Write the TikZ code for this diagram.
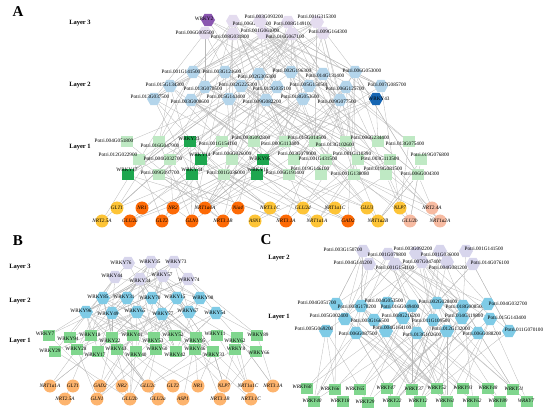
\documentclass[tikz,border=0pt]{standalone}
\usepackage{fontspec}
\setmainfont{Liberation Serif}
\usetikzlibrary{shapes.geometric,backgrounds}

\definecolor{lavA}{HTML}{E4DCEF}
\definecolor{purA}{HTML}{8A56B0}
\definecolor{bluA}{HTML}{B4D5EB}
\definecolor{navA}{HTML}{1666B3}
\definecolor{grnA}{HTML}{BFE9C4}
\definecolor{dgrA}{HTML}{1EA64F}
\definecolor{orgA}{HTML}{FD6A06}
\definecolor{golA}{HTML}{FDC437}
\definecolor{pnkA}{HTML}{F7BBA2}
\definecolor{lavB}{HTML}{D7D5EC}
\definecolor{bluB}{HTML}{7FCBE6}
\definecolor{grnB}{HTML}{80D68E}
\definecolor{orgB}{HTML}{FDB46E}

\tikzset{
  edge/.style={draw=gray!55,line width=0.3pt},
  hexnode/.style={regular polygon,regular polygon sides=6,minimum size=14pt,inner sep=0pt},
  sqnode/.style={rectangle,minimum width=12pt,minimum height=11pt,inner sep=0pt},
  gene/.style={circle,minimum size=13pt,inner sep=0pt},
  lab/.style={font=\fontsize{5.2}{6}\selectfont,inner sep=0pt},
  glab/.style={font=\fontsize{5.2}{6}\selectfont\itshape,inner sep=0pt},
  layerlab/.style={font=\fontsize{6.5}{8}\selectfont\bfseries},
  panel/.style={font=\fontsize{15}{18}\selectfont\bfseries}
}

% random links between two layers, kept within a horizontal reach
\newcommand\randlinks[6]{%
  \foreach \k in {1,...,#1}{%
    \pgfmathtruncatemacro\ea{random(1,#3)}%
    \pgfmathtruncatemacro\eb{random(1,#5)}%
    \path (#2\ea); \pgfgetlastxy\xa\ya
    \path (#4\eb); \pgfgetlastxy\xb\yb
    \pgfmathtruncatemacro\ok{abs(\xa-\xb)<#6}%
    \ifnum\ok=1 \draw[edge] (#2\ea) -- (#4\eb);\fi
  }}

\begin{document}
\begin{tikzpicture}[x=1pt,y=-1pt]
\useasboundingbox (0,0) rectangle (550,412);

% ---------------- panel A ----------------
\node[panel] (pA) at (18,12) {A};
\node[layerlab] (aL3) at (80,23) {Layer 3};
\node[layerlab] (aL2) at (80,85) {Layer 2};
\node[layerlab] (aL1) at (80,147) {Layer 1};

\foreach \x/\y/\lx/\ly/\c/\t [count=\i] in {
  208/20/204/19/purA/WRKY2, 233/21/252/24/lavA/Potri.006G229200,
  260/21/264/17/lavA/Potri.003G093200, 288/22/293/24/lavA/Potri.008G149100,
  317/22/317/17/lavA/Potri.001G315300, 205/33/195/33/lavA/Potri.006G005500,
  233/34/230/37/lavA/Potri.008G031800, 263/33/260/31/lavA/Potri.001G061000,
  292/34/285/37/lavA/Potri.016G067100, 323/33/328/32/lavA/Potri.009G164300}
  {\node[hexnode,fill=\c] (aT\i) at (\x,\y) {};
   \node[lab] (aTl\i) at (\lx,\ly) {\t};}

\foreach \x/\y/\lx/\ly/\c/\t [count=\i] in {
  193/72/181/72/bluA/Potri.001G141500, 225/72/222/72/bluA/Potri.003G121600,
  259/74/257/77/bluA/Potri.002G305300, 291/72/292/71/bluA/Potri.002G196300,
  323/74/325/76/bluA/Potri.014G131400, 355/72/362/71/bluA/Potri.006G053000,
  170/86/165/85/bluA/Potri.015G134300, 205/87/203/89/bluA/Potri.013G070500,
  241/86/238/85/bluA/Potri.002G225300, 277/87/272/89/bluA/Potri.012G035100,
  309/86/309/85/bluA/Potri.005G150501, 346/87/345/89/bluA/Potri.006G125700,
  381/86/387/85/bluA/Potri.007G085700, 154/99/150/97/bluA/Potri.013G037500,
  191/100/190/102/bluA/Potri.003G008600, 229/99/226/97/bluA/Potri.015G143400,
  266/100/262/102/bluA/Potri.009G082200, 303/99/300/97/bluA/Potri.018G053600,
  340/100/337/102/bluA/Potri.009G077500, 376/99/379/99/navA/WRKY43}
  {\node[hexnode,fill=\c] (aM\i) at (\x,\y) {};
   \node[lab] (aMl\i) at (\lx,\ly) {\t};}

\foreach \x/\y/\lx/\ly/\c/\t [count=\i] in {
  127/142/114/141/grnA/Potri.004G051800, 159/142/160/146/grnA/Potri.016G047900,
  190/142/189/139/dgrA/WRKY33, 222/142/218/144/grnA/Potri.001G154100,
  254/142/251/138/grnA/Potri.003G092800, 285/142/280/144/grnA/Potri.000G113400,
  315/142/307/138/grnA/Potri.015G014500, 346/142/335/145/grnA/Potri.013G102600,
  378/142/370/138/grnA/Potri.006G234400, 409/142/405/144/grnA/Potri.013G075400,
  139/160/118/155/grnA/Potri.012G022900, 170/160/163/159/grnA/Potri.004G032700,
  201/160/200/155/dgrA/WRKY14, 232/160/232/154/grnA/Potri.006G026000,
  263/160/260/159/dgrA/WRKY95, 294/160/297/154/grnA/Potri.003G079000,
  326/160/318/159/grnA/Potri.001G431500, 358/160/352/154/grnA/Potri.001G110390,
  390/160/380/159/grnA/Potri.003G113500, 421/160/430/155/grnA/Potri.019G076800,
  128/175/127/170/dgrA/WRKY17, 159/175/160/173/grnA/Potri.009G097700,
  192/175/192/170/dgrA/WRKY44, 224/175/226/173/grnA/Potri.001G036000,
  257/175/258/170/dgrA/WRKY16, 289/175/285/173/grnA/Potri.006G191400,
  321/175/310/169/grnA/Potri.019G146100, 354/175/350/174/grnA/Potri.001G138080,
  386/175/383/169/grnA/Potri.019G081500, 418/175/420/174/grnA/Potri.006G004300}
  {\node[sqnode,fill=\c] (aB\i) at (\x,\y) {};
   \node[lab] (aBl\i) at (\lx,\ly) {\t};}

\foreach \x/\y/\c/\t [count=\i] in {
  117/208/golA/GLT1, 142/208/orgA/NR1, 173/208/orgA/NR2, 205/208/orgA/NRT1a4A,
  238/208/orgA/Nia4, 270/208/golA/NRT3.1C, 303/208/golA/GLU2d, 335/208/golA/NRT1a1C,
  367/208/golA/GLU3, 400/208/golA/NLP7, 432/208/pnkA/NRT2.4A,
  102/221/golA/NRT2.5A, 130/221/orgA/GLU2a, 162/221/orgA/GLT2, 192/221/orgA/GLN1,
  223/221/orgA/NRT3.1B, 255/221/golA/ASN1, 286/221/orgA/NRT3.1A, 317/221/golA/NRT1a1A,
  348/221/orgA/GAD2, 378/221/golA/NRT1a2B, 410/221/pnkA/GLU2b, 440/221/pnkA/NRT1a2A}
  {\node[gene,fill=\c] (aG\i) at (\x,\y) {};
   \node[glab] (aGl\i) at (\x,\y) {\t};}

% ---------------- panel B ----------------
\node[panel] (pB) at (18,241) {B};
\node[layerlab] (bL3) at (20,267) {Layer 3};
\node[layerlab] (bL2) at (20,301) {Layer 2};
\node[layerlab] (bL1) at (20,341) {Layer 1};

\foreach \x/\y/\lx/\ly/\t [count=\i] in {
  128/263/121/263/WRKY76, 151/262/150/262/WRKY35, 174/262/176/262/WRKY73,
  115/277/112/276/WRKY44, 140/279/140/281/WRKY34, 163/276/162/275/WRKY57,
  188/279/189/280/WRKY74}
  {\node[hexnode,fill=lavB] (bT\i) at (\x,\y) {};
   \node[lab] (bTl\i) at (\lx,\ly) {\t};}

\foreach \x/\y/\lx/\ly/\t [count=\i] in {
  103/298/98/297/WRKY85, 127/298/124/297/WRKY31, 152/298/150/298/WRKY70,
  177/298/175/297/WRKY15, 200/298/203/298/WRKY98, 86/312/81/311/WRKY96,
  112/313/108/314/WRKY49, 137/312/135/311/WRKY65, 162/314/163/314/WRKY77,
  189/312/188/311/WRKY67, 216/313/215/313/WRKY54}
  {\node[hexnode,fill=bluB] (bM\i) at (\x,\y) {};
   \node[lab] (bMl\i) at (\lx,\ly) {\t};}

\foreach \x/\y/\lx/\ly/\t [count=\i] in {
  49/335/45/334/WRKY7, 70/337/68/339/WRKY94, 91/335/90/335/WRKY18,
  112/337/110/341/WRKY22, 133/335/132/335/WRKY41, 154/337/153/341/WRKY53,
  175/335/173/335/WRKY52, 196/337/195/341/WRKY95, 217/335/215/334/WRKY11,
  237/337/235/341/WRKY62, 257/335/258/335/WRKY89,
  55/351/50/351/WRKY29, 77/349/76/349/WRKY28, 98/351/95/355/WRKY17,
  117/349/116/349/WRKY43, 136/351/136/355/WRKY40, 156/349/157/349/WRKY60,
  176/351/175/355/WRKY42, 195/349/195/349/WRKY46, 213/351/214/355/WRKY33,
  235/349/236/349/WRKY8, 256/351/259/353/WRKY66}
  {\node[sqnode,fill=grnB] (bB\i) at (\x,\y) {};
   \node[lab] (bBl\i) at (\lx,\ly) {\t};}

\foreach \x/\y/\t [count=\i] in {
  50/386/NRT1a1A, 73/386/GLT1, 100/386/GAD2, 122/386/NR2, 148/386/GLU2c,
  173/386/GLT2, 198/386/NR1, 224/386/NLP7, 248/386/NRT1a1C, 273/386/NRT3.1A,
  65/399/NRT2.5A, 97/399/GLN1, 130/399/GLU2b, 158/399/GLU2a, 183/399/ASP1,
  220/399/NRT3.1B, 251/399/NRT3.1C}
  {\node[gene,fill=orgB] (bG\i) at (\x,\y) {};
   \node[glab] (bGl\i) at (\x,\y) {\t};}

% ---------------- panel C ----------------
\node[panel] (pC) at (266,240) {C};
\node[layerlab] (cL2) at (279,258) {Layer 2};
\node[layerlab] (cL1) at (279,317) {Layer 1};

\foreach \x/\y/\lx/\ly/\t [count=\i] in {
  363/251/343/250/Potri.003G150700, 388/254/387/255/Potri.001G079800,
  416/253/413/249/Potri.003G092200, 440/251/440/255/Potri.001G036000,
  466/251/484/249/Potri.001G141500, 369/264/353/263/Potri.004G141200,
  395/264/395/268/Potri.001G154100, 422/262/422/262/Potri.007G047400,
  447/262/448/268/Potri.004G081200, 473/264/490/263/Potri.014G076100}
  {\node[hexnode,fill=lavB] (cM\i) at (\x,\y) {};
   \node[lab] (cMl\i) at (\lx,\ly) {\t};}

\foreach \x/\y/\lx/\ly/\t [count=\i] in {
  336/304/317/303/Potri.004G051700, 361/306/357/307/Potri.003G170200,
  387/303/384/301/Potri.004G053500, 412/306/400/307/Potri.016G049400,
  437/303/438/302/Potri.002G028400, 463/306/465/307/Potri.018G008500,
  488/304/508/304/Potri.004G032700,
  345/319/329/316/Potri.005G002400, 374/320/370/321/Potri.003G166500,
  403/318/401/316/Potri.008G216200, 433/320/431/321/Potri.011G109500,
  462/318/464/316/Potri.014G119800, 490/319/507/318/Potri.015G143400,
  326/331/314/329/Potri.005G069200, 356/333/358/334/Potri.006G087500,
  386/331/392/328/Potri.004G164100, 417/333/422/335/Potri.013G102600,
  447/331/451/329/Potri.012G132000, 478/333/482/334/Potri.006G088200,
  509/331/524/330/Potri.011G070100}
  {\node[hexnode,fill=bluB] (cB\i) at (\x,\y) {};
   \node[lab] (cBl\i) at (\lx,\ly) {\t};}

\foreach \x/\y/\lx/\ly/\t [count=\i] in {
  307/388/302/387/WRKY60, 335/389/330/389/WRKY66, 360/389/355/389/WRKY65,
  387/388/386/388/WRKY47, 412/389/414/389/WRKY37, 437/388/437/388/WRKY52,
  463/388/463/388/WRKY93, 488/388/488/388/WRKY48, 513/389/514/389/WRKY31,
  314/401/312/401/WRKY40, 343/401/340/401/WRKY18, 368/402/365/402/WRKY29,
  394/401/392/401/WRKY22, 420/401/418/401/WRKY12, 447/401/445/401/WRKY61,
  473/401/472/401/WRKY62, 500/401/498/401/WRKY89, 527/401/526/401/WRKY7}
  {\node[sqnode,fill=grnB] (cG\i) at (\x,\y) {};
   \node[glab] (cGl\i) at (\lx,\ly) {\t};}

% ---------------- links ----------------
\begin{scope}[on background layer]
  \pgfmathsetseed{4711}
  \randlinks{60}{aT}{10}{aM}{20}{160pt}
  \randlinks{14}{aT}{10}{aB}{30}{200pt}
  \randlinks{110}{aM}{20}{aB}{30}{150pt}
  \randlinks{15}{aM}{20}{aG}{23}{150pt}
  \randlinks{130}{aB}{30}{aG}{23}{140pt}
  \randlinks{35}{bT}{7}{bM}{11}{100pt}
  \randlinks{10}{bT}{7}{bB}{22}{100pt}
  \randlinks{80}{bM}{11}{bB}{22}{90pt}
  \randlinks{80}{bB}{22}{bG}{17}{80pt}
  \randlinks{50}{cM}{10}{cB}{20}{110pt}
  \randlinks{90}{cB}{20}{cG}{18}{110pt}
\end{scope}
\end{tikzpicture}
\end{document}
